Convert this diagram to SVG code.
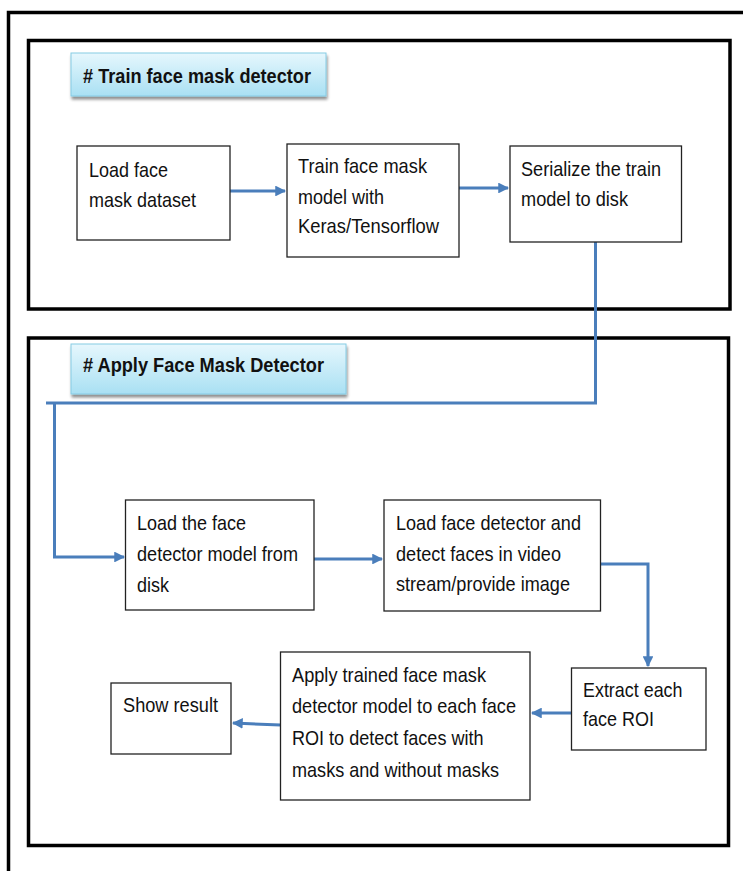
<svg xmlns="http://www.w3.org/2000/svg" width="743" height="871" viewBox="0 0 743 871">
<defs>
<linearGradient id="tg" x1="0" y1="0" x2="0" y2="1">
<stop offset="0" stop-color="#e6f7fd"/>
<stop offset="1" stop-color="#a9e0f3"/>
</linearGradient>
<filter id="sh" x="-10%" y="-20%" width="130%" height="160%">
<feGaussianBlur in="SourceAlpha" stdDeviation="1.5"/>
<feOffset dx="1" dy="3" result="b"/>
<feComponentTransfer><feFuncA type="linear" slope="0.45"/></feComponentTransfer>
<feMerge><feMergeNode/><feMergeNode in="SourceGraphic"/></feMerge>
</filter>
<marker id="ah" viewBox="0 0 10 10" refX="9" refY="5" markerWidth="3.6" markerHeight="3.6" orient="auto" markerUnits="strokeWidth">
<path d="M0,0 L10,5 L0,10 Z" fill="#4a7ebb"/>
</marker>
</defs>
<style>
.frame{fill:none;stroke:#000;stroke-width:3.5}
.node{fill:#fff;stroke:#222;stroke-width:1.3}
.title{fill:url(#tg);stroke:#86cbe4;stroke-width:1}
.t{font-family:"Liberation Sans",Arial,sans-serif;font-size:21px;fill:#111}
.tb{font-family:"Liberation Sans",Arial,sans-serif;font-size:20px;font-weight:bold;fill:#111}
.c{fill:none;stroke:#4a7ebb;stroke-width:3}
</style>
<rect width="743" height="871" fill="#fff"/>
<g id="outer-frame">
<path d="M8.5,871 V12.5 H743" class="frame"/>
</g>
<g id="section-train">
<rect x="28.5" y="40.5" width="701.5" height="268.5" class="frame"/>
<g id="title-train" filter="url(#sh)">
<rect x="71" y="53" width="255" height="43" class="title"/>
</g>
<text x="83" y="83" class="tb" textLength="228" lengthAdjust="spacingAndGlyphs"># Train face mask detector</text>
</g>
<g id="section-apply">
<rect x="28.5" y="338" width="700" height="507.5" class="frame"/>
<g id="title-apply" filter="url(#sh)">
<rect x="71" y="344" width="275" height="50" class="title"/>
</g>
<text x="83" y="372" class="tb" textLength="241" lengthAdjust="spacingAndGlyphs"># Apply Face Mask Detector</text>
</g>
<g id="connectors">
<path d="M230,191 H285" class="c" marker-end="url(#ah)"/>
<path d="M459,188 H508" class="c" marker-end="url(#ah)"/>
<path d="M595.5,242 V403 H46" class="c"/>
<path d="M54.5,403 V557 H124" class="c" marker-end="url(#ah)"/>
<path d="M314,559 H382" class="c" marker-end="url(#ah)"/>
<path d="M600.5,564 H648 V666" class="c" marker-end="url(#ah)"/>
<path d="M571.5,713 H532" class="c" marker-end="url(#ah)"/>
<path d="M280.5,725 L233,723" class="c" marker-end="url(#ah)"/>
</g>
<g id="n1">
<rect x="77" y="146" width="153" height="94" class="node"/>
<text x="89" y="177" class="t" textLength="79" lengthAdjust="spacingAndGlyphs">Load face</text>
<text x="89" y="207" class="t" textLength="107" lengthAdjust="spacingAndGlyphs">mask dataset</text>
</g>
<g id="n2">
<rect x="287" y="144" width="172" height="113" class="node"/>
<text x="298" y="173" class="t" textLength="129" lengthAdjust="spacingAndGlyphs">Train face mask</text>
<text x="298" y="204" class="t" textLength="86" lengthAdjust="spacingAndGlyphs">model with</text>
<text x="298" y="233" class="t" textLength="141" lengthAdjust="spacingAndGlyphs">Keras/Tensorflow</text>
</g>
<g id="n3">
<rect x="510" y="146" width="171.5" height="96" class="node"/>
<text x="521" y="176" class="t" textLength="140" lengthAdjust="spacingAndGlyphs">Serialize the train</text>
<text x="521" y="206" class="t" textLength="107" lengthAdjust="spacingAndGlyphs">model to disk</text>
</g>
<g id="n4">
<rect x="125.5" y="500" width="188.5" height="110" class="node"/>
<text x="137" y="530" class="t" textLength="109" lengthAdjust="spacingAndGlyphs">Load the face</text>
<text x="137" y="561" class="t" textLength="161" lengthAdjust="spacingAndGlyphs">detector model from</text>
<text x="137" y="592" class="t" textLength="32" lengthAdjust="spacingAndGlyphs">disk</text>
</g>
<g id="n5">
<rect x="384" y="500" width="216.5" height="111" class="node"/>
<text x="396" y="530" class="t" textLength="185" lengthAdjust="spacingAndGlyphs">Load face detector and</text>
<text x="396" y="561" class="t" textLength="165" lengthAdjust="spacingAndGlyphs">detect faces in video</text>
<text x="396" y="591" class="t" textLength="174" lengthAdjust="spacingAndGlyphs">stream/provide image</text>
</g>
<g id="n6">
<rect x="571.5" y="668" width="134.5" height="82" class="node"/>
<text x="583" y="697" class="t" textLength="99.5" lengthAdjust="spacingAndGlyphs">Extract each</text>
<text x="583" y="726" class="t" textLength="71" lengthAdjust="spacingAndGlyphs">face ROI</text>
</g>
<g id="n7">
<rect x="280.5" y="652" width="249.5" height="148" class="node"/>
<text x="292" y="682" class="t" textLength="194" lengthAdjust="spacingAndGlyphs">Apply trained face mask</text>
<text x="292" y="713" class="t" textLength="224" lengthAdjust="spacingAndGlyphs">detector model to each face</text>
<text x="292" y="745" class="t" textLength="191.5" lengthAdjust="spacingAndGlyphs">ROI to detect faces with</text>
<text x="292" y="777" class="t" textLength="207" lengthAdjust="spacingAndGlyphs">masks and without masks</text>
</g>
<g id="n8">
<rect x="111" y="683" width="120" height="71" class="node"/>
<text x="123" y="712" class="t" textLength="95" lengthAdjust="spacingAndGlyphs">Show result</text>
</g>
</svg>
